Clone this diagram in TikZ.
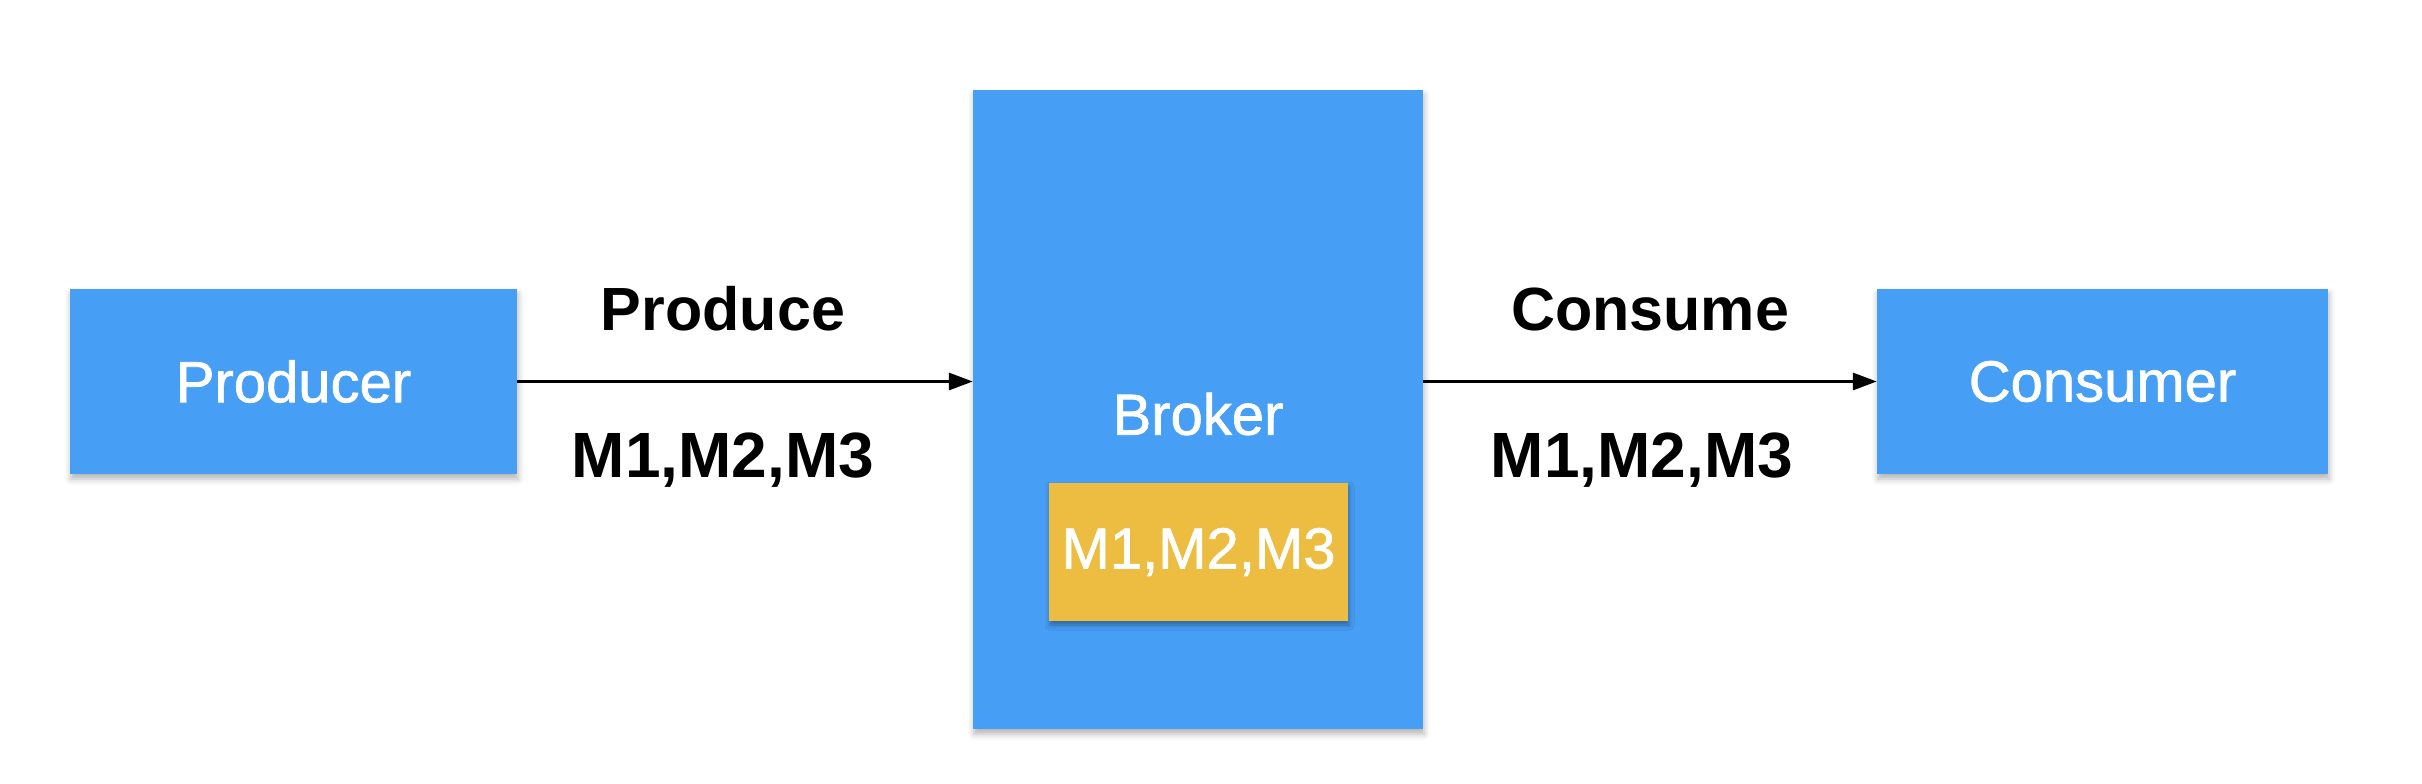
\documentclass[tikz,border=0pt]{standalone}
\usepackage{fontspec}
\setmainfont{Liberation Sans}
\newfontfamily\boxfont[FakeBold=1.2]{Liberation Sans}
\usetikzlibrary{arrows.meta,shadows.blur}
\definecolor{boxblue}{HTML}{479EF5}
\definecolor{boxyellow}{HTML}{ECBD40}
\tikzset{
  boxtext/.style={text=white, font=\boxfont\fontsize{58}{60}\selectfont},
  bluebox/.style={fill=boxblue, draw=none, inner sep=0pt, boxtext,
    blur shadow={shadow xshift=1pt, shadow yshift=-5pt, shadow blur radius=6pt, shadow opacity=30}},
  yellowbox/.style={fill=boxyellow, draw=none, inner sep=0pt, boxtext,
    blur shadow={shadow xshift=1pt, shadow yshift=-4pt, shadow blur radius=5pt, shadow opacity=35}},
  lbl/.style={font=\bfseries\fontsize{61}{63}\selectfont, text=black, inner sep=0pt},
  flow/.style={line width=3.2pt, -{Triangle[length=24pt,width=17pt]}}
}
\begin{document}
\begin{tikzpicture}[x=1pt,y=-1pt]
\useasboundingbox (0,0) rectangle (2422,784);
\node[bluebox, minimum width=447pt, minimum height=185pt] (producer) at (293.5,381.5) {Producer};
\node[bluebox, minimum width=450pt, minimum height=639pt] (broker) at (1198,409.5) {};
\node[boxtext, inner sep=0pt] (brokerlbl) at (1198,414) {Broker};
\node[yellowbox, minimum width=299pt, minimum height=138pt] (queue) at (1198.5,552) {M1,M2,M3};
\node[bluebox, minimum width=451pt, minimum height=185pt] (consumer) at (2102.5,381.5) {Consumer};
\draw[flow] (producer.east) -- (producer.east -| broker.west);
\draw[flow] (consumer.west -| broker.east) -- (consumer.west);
\node[lbl] (produce) at (723,309) {Produce};
\node[lbl, font=\bfseries\fontsize{64}{66}\selectfont] (msgs1) at (723,460) {M1,M2,M3};
\node[lbl] (consume) at (1650,309) {Consume};
\node[lbl, font=\bfseries\fontsize{64}{66}\selectfont] (msgs2) at (1642,460) {M1,M2,M3};
\end{tikzpicture}
\end{document}
